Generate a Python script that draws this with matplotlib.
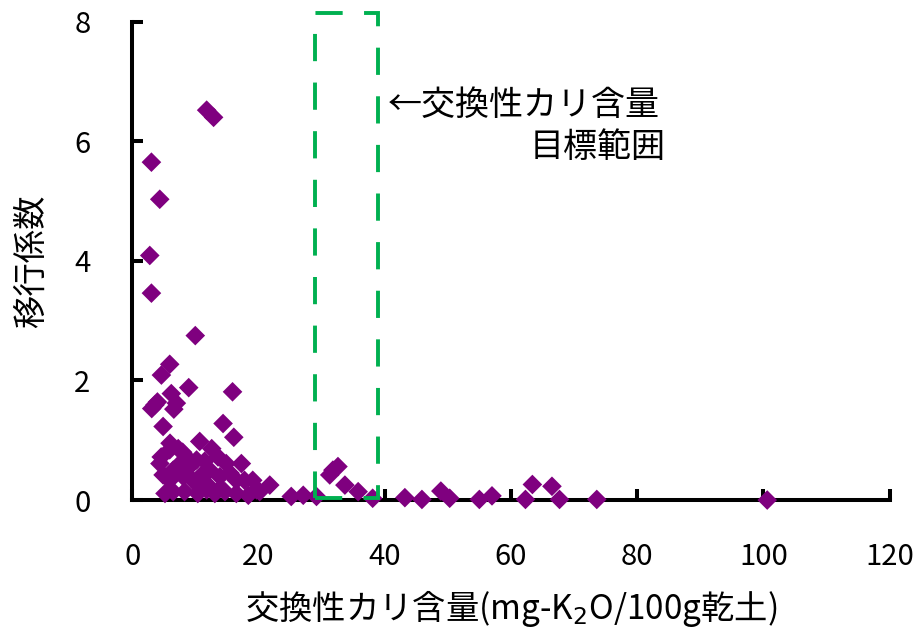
import matplotlib
matplotlib.use('Agg')
import matplotlib.pyplot as plt
from matplotlib.patches import Rectangle

plt.rcParams['font.family'] = ['Noto Sans CJK JP', 'DejaVu Sans']

# exchangeable potassium (mg-K2O/100g) vs transfer coefficient
potassium = [
    11.8, 12.9, 3.05, 4.37, 2.79, 3.05, 10.0, 5.95, 4.63, 8.96, 15.9,
    6.2, 7.0, 6.6, 3.6, 3.1, 4.0, 4.9, 14.4, 16.1, 10.7,
    4.6, 5.95, 7.3, 8.6, 12.6, 13.6, 14.9, 17.3, 4.4, 10.2,
    4.9, 6.5, 5.95, 8.1, 11.0, 12.3, 13.9, 15.5, 16.5, 17.8, 19.1,
    6.5, 8.3, 10.4, 11.8, 13.1, 14.7, 16.5, 18.4, 20.2, 5.2, 10.7, 9.6,
    7.5, 9.0, 12.0, 14.0, 6.0, 8.0, 11.5,
    19.7, 21.8, 25.2, 27.1, 29.2, 31.3, 32.6, 31.8, 33.7, 35.8, 38.1,
    43.2, 45.9, 48.9, 50.3, 55.0, 57.0, 62.3, 63.4, 66.5, 67.7, 73.6, 100.6,
]
coefficient = [
    6.52, 6.40, 5.65, 5.03, 4.09, 3.46, 2.75, 2.27, 2.09, 1.88, 1.81,
    1.78, 1.62, 1.52, 1.59, 1.53, 1.64, 1.23, 1.28, 1.05, 0.98,
    0.72, 0.84, 0.86, 0.72, 0.86, 0.72, 0.61, 0.61, 0.61, 0.67,
    0.42, 0.50, 0.33, 0.39, 0.42, 0.50, 0.39, 0.45, 0.33, 0.33, 0.33,
    0.14, 0.14, 0.11, 0.17, 0.11, 0.14, 0.11, 0.08, 0.14, 0.11, 0.22, 0.33,
    0.60, 0.55, 0.25, 0.20, 0.95, 0.80, 0.65,
    0.17, 0.25, 0.06, 0.08, 0.06, 0.42, 0.56, 0.50, 0.25, 0.14, 0.03,
    0.04, 0.01, 0.15, 0.03, 0.01, 0.07, 0.01, 0.26, 0.23, 0.01, 0.01, 0.0,
]

# target range of exchangeable potassium
target_low = 29
target_high = 39

fig = plt.figure(figsize=(9.21, 6.37), dpi=100)
ax = fig.add_axes([0.1435, 0.215, 0.8225, 0.751])

ax.scatter(potassium, coefficient, marker='D', s=100, color='#7F007F',
           edgecolors='none', clip_on=False, zorder=3)

rect = Rectangle((target_low, 0.04), target_high - target_low, 8.1,
                 fill=False, edgecolor='#00B050', linewidth=2.8,
                 linestyle=(0, (7, 5.5)), clip_on=False, zorder=4)
ax.add_patch(rect)

ax.text(40.5, 6.6, '←交換性カリ含量', fontsize=24.5, ha='left', va='center')
ax.text(84.5, 5.9, '目標範囲', fontsize=24.5, ha='right', va='center')

ax.set_xlim(0, 120)
ax.set_ylim(0, 8)
ax.set_xticks(range(0, 121, 20))
ax.set_yticks(range(0, 9, 2))

for side in ['top', 'right']:
    ax.spines[side].set_visible(False)
for side in ['left', 'bottom']:
    ax.spines[side].set_linewidth(2.9)

ax.tick_params(direction='in', length=8, width=2.9, labelsize=21, pad=30)

ax.set_xlabel('交換性カリ含量(mg-K$_2$O/100g乾土)', fontsize=24, labelpad=12)
ax.set_ylabel('移行係数', fontsize=24, labelpad=18)

fig.savefig('out.png', dpi=100)
